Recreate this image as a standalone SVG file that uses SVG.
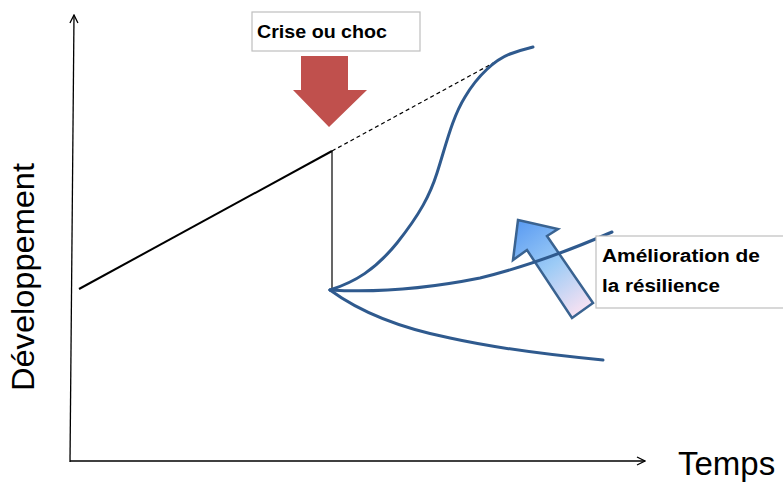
<svg xmlns="http://www.w3.org/2000/svg" width="783" height="483" viewBox="0 0 783 483">
<style>
.axis{stroke:#000;stroke-width:1.3;fill:none}
.curve{stroke:#2F5A8E;stroke-width:3;fill:none;stroke-linecap:round}
.lbl{font-family:"Liberation Sans",Arial,sans-serif;font-weight:bold;font-size:18px;fill:#000}
.big{font-family:"Liberation Sans",Arial,sans-serif;font-size:31px;fill:#000}
.box{fill:#fff;stroke:#BFBFBF;stroke-width:1.2}
</style>
<defs>
<marker id="open" viewBox="0 0 10 10" refX="9" refY="5" markerWidth="10" markerHeight="10" markerUnits="userSpaceOnUse" orient="auto">
<path d="M1,1 L9,5 L1,9" fill="none" stroke="#000" stroke-width="1.3"/>
</marker>
<linearGradient id="bg" x1="518" y1="221" x2="583" y2="312" gradientUnits="userSpaceOnUse">
<stop offset="0" stop-color="#5A9BF2"/>
<stop offset="0.5" stop-color="#9CCBF6"/>
<stop offset="1" stop-color="#F9E2F2"/>
</linearGradient>
</defs>
<g id="resilience-arrow">
<path d="M518,220 L558,229 L547,236 L593,303 L572,318 L527,250 L513,260 Z" fill="url(#bg)" stroke="#3A6391" stroke-width="2.5" stroke-linejoin="miter"/>
</g>
<g id="connectors">
<line class="axis" x1="70" y1="462" x2="74" y2="15" marker-end="url(#open)"/>
<line class="axis" x1="70" y1="461" x2="645" y2="461" marker-end="url(#open)"/>
<line x1="79" y1="289" x2="332" y2="151" stroke="#000" stroke-width="2"/>
<line x1="332" y1="151" x2="497" y2="61" stroke="#000" stroke-width="1.2" stroke-dasharray="4,3"/>
<line x1="332" y1="151" x2="332" y2="290" stroke="#000" stroke-width="1.2"/>
<path class="curve" d="M330,290 C355,282 375,270 397,243 C420,214 430,195 437,173 C446,145 452,118 465,97 C478,75 495,60 510,54 C518,51 525,49 533,47"/>
<path class="curve" d="M330,290 C380,293 430,288 480,278 C530,266 575,248 612,232"/>
<path class="curve" d="M330,290 C360,312 400,328 450,338 C500,349 550,355 603,360"/>
</g>
<g id="axis-y-label"><text class="big" transform="translate(34,391) rotate(-90)" textLength="228" lengthAdjust="spacingAndGlyphs">Développement</text></g>
<g id="axis-x-label"><text class="big" x="678" y="475" style="font-size:33px">Temps</text></g>
<g id="crise">
<rect class="box" x="252" y="12" width="168" height="39"/>
<text class="lbl" x="257" y="38" textLength="130" lengthAdjust="spacingAndGlyphs">Crise ou choc</text>
<path d="M301,56 H348 V90 H367 L329,127 L293,90 H301 Z" fill="#C0504D"/>
</g>
<g id="amelioration">
<rect class="box" x="596" y="236" width="190" height="72"/>
<text class="lbl" x="602" y="262" textLength="158" lengthAdjust="spacingAndGlyphs">Amélioration de</text>
<text class="lbl" x="602" y="292" textLength="118" lengthAdjust="spacingAndGlyphs">la résilience</text>
</g>
</svg>
